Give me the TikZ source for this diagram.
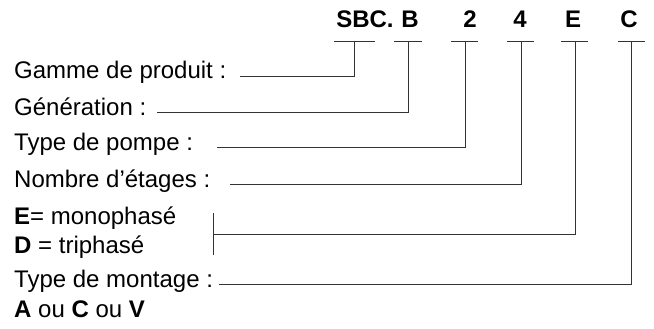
\documentclass[tikz,border=0pt]{standalone}
\usepackage{fontspec}
\setmainfont{Liberation Sans}
\newcommand{\lblsize}{\fontsize{24}{28}\selectfont}

\begin{document}
\begin{tikzpicture}[x=1pt,y=-1pt,
    lbl/.style={anchor=base west,inner sep=0pt,font=\lblsize},
    code/.style={anchor=base,inner sep=0pt,font=\lblsize\bfseries},
    link/.style={line width=1pt,black!80}]
    \useasboundingbox (0,0) rectangle (654,329);
    % type code
    \node[code] (sbc) at (365,28) {SBC.};
    \node[code] (b) at (410,28) {B};
    \node[code] (two) at (470,28) {2};
    \node[code] (four) at (520,28) {4};
    \node[code] (e) at (573,28) {E};
    \node[code] (c) at (629,28) {C};
    \draw[link] (334,42) -- (375,42) (354,42) coordinate (sbc-u);
    \draw[link] (394,42) -- (422,42) (408,42) coordinate (b-u);
    \draw[link] (451,42) -- (478,42) (465,42) coordinate (two-u);
    \draw[link] (507,42) -- (534,42) (521,42) coordinate (four-u);
    \draw[link] (561,42) -- (588,42) (575,42) coordinate (e-u);
    \draw[link] (618,42) -- (645,42) (631,42) coordinate (c-u);
    % labels
    \node[lbl] (gamme) at (14,79) {Gamme de produit :};
    \node[lbl] (gen) at (14,115) {Génération :};
    \node[lbl] (pompe) at (14,150) {Type de pompe :};
    \node[lbl] (etages) at (14,187) {Nombre d’étages :};
    \node[lbl] (mono) at (14,224) {\textbf{E}= monophasé};
    \node[lbl] (tri) at (14,253) {\textbf{D} = triphasé};
    \node[lbl] (montage) at (14,287) {Type de montage :};
    \node[lbl] (acv) at (14,317) {\textbf{A} ou \textbf{C} ou \textbf{V}};
    % connectors
    \draw[link] (240,0 |- gamme.mid east) -| (sbc-u);
    \draw[link] (157,0 |- gen.mid east) -| (b-u);
    \draw[link] (217,0 |- pompe.mid east) -| (two-u);
    \draw[link] (230,0 |- etages.mid east) -| (four-u);
    \coordinate (brk) at (213,234);
    \draw[link] (213,213) -- (213,255);
    \draw[link] (brk) -| (e-u);
    \draw[link] (219,0 |- montage.mid east) -| (c-u);
\end{tikzpicture}
\end{document}
